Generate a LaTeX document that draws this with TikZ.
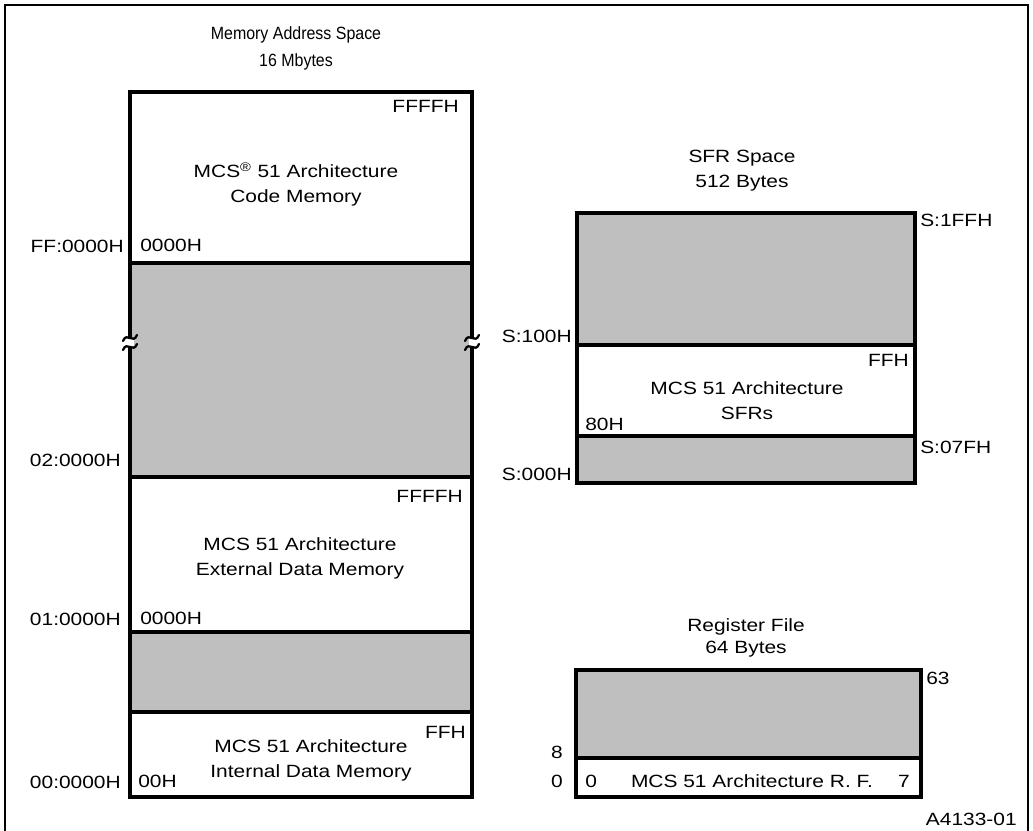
\documentclass[tikz,border=0pt]{standalone}
\usepackage{fontspec}
\setmainfont{Liberation Sans}[FakeStretch=1.18]
\newfontfamily\titlefont{Liberation Sans}[FakeStretch=0.9]

\begin{document}
\begin{tikzpicture}[
  x=0.75pt, y=-0.75pt,
  lbl/.style={inner sep=0pt, font=\fontsize{13.3}{18.75}\selectfont},
  ttl/.style={inner sep=0pt, align=center, font=\fontsize{13.3}{18.75}\selectfont},
  blk/.style={draw, line width=3.3pt},
  shade/.style={blk, fill=black!25},
  mem/.style={blk, fill=white},
  brk/.style={line width=1.7pt, line cap=round},
  frame/.style={line width=1pt},
]
\useasboundingbox (0,0) rectangle (1033,831);
\draw[frame] (5,831) -- (5,5) -- (1028,5) -- (1028,831);

% === MEMORY ADDRESS SPACE (left) ===
% (base of a two-line node = baseline of its last line)
\node[ttl, anchor=base, font=\titlefont\fontsize{13.3}{20.25}\selectfont] (memtitle) at (296,67) {Memory Address Space\\16 Mbytes};

\path[shade] (130,92) rectangle (472,797);
\path[mem] (130,92) rectangle (472,263);
\path[mem] (130,477) rectangle (472,632);
\path[mem] (130,712) rectangle (472,797);

% break marks in the shaded gap
\fill[white] (127,338) rectangle (133.5,346);
\fill[white] (469,338) rectangle (475.5,346);
\draw[brk] (123,341) .. controls (127,331) and (133,345) .. (137,335);
\draw[brk] (123,350) .. controls (127,340) and (133,354) .. (137,344);
\draw[brk] (465,341) .. controls (469,331) and (475,345) .. (479,335);
\draw[brk] (465,350) .. controls (469,340) and (475,354) .. (479,344);

\node[lbl, anchor=base east] (codetop) at (459,113) {FFFFH};
\node[ttl, anchor=base] (code) at (296,203) {MCS\textsuperscript{®} 51 Architecture\\Code Memory};
\node[lbl, anchor=base west] (codebot) at (140,252) {0000H};

\node[lbl, anchor=base east] (extop) at (463,502) {FFFFH};
\node[ttl, anchor=base] (ext) at (300,575) {MCS 51 Architecture\\External Data Memory};
\node[lbl, anchor=base west] (exbot) at (140,624) {0000H};

\node[lbl, anchor=base east] (intop) at (466,738) {FFH};
\node[ttl, anchor=base] (int) at (311,777) {MCS 51 Architecture\\Internal Data Memory};
\node[lbl, anchor=base west] (inbot) at (138,787) {00H};

\node[lbl, anchor=base east] (aFF) at (124,253) {FF:0000H};
\node[lbl, anchor=base east] (a02) at (121,466) {02:0000H};
\node[lbl, anchor=base east] (a01) at (121,625) {01:0000H};
\node[lbl, anchor=base east] (a00) at (121,788) {00:0000H};

% === SFR SPACE (top right) ===
\node[ttl, anchor=base] (sfrtitle) at (742,188) {SFR Space\\512 Bytes};

\path[shade] (577,213) rectangle (915,483);
\path[mem] (577,345) rectangle (915,436);

\node[lbl, anchor=base east] (sfrtop) at (909,367) {FFH};
\node[ttl, anchor=base] (sfr) at (747,419) {MCS 51 Architecture\\SFRs};
\node[lbl, anchor=base west] (sfrbot) at (585,431) {80H};

\node[lbl, anchor=base west] (s1FF) at (920,227) {S:1FFH};
\node[lbl, anchor=base east] (s100) at (572,343) {S:100H};
\node[lbl, anchor=base west] (s07F) at (920,453) {S:07FH};
\node[lbl, anchor=base east] (s000) at (572,480) {S:000H};

% === REGISTER FILE (bottom right) ===
\node[ttl, anchor=base, font=\fontsize{13.3}{16.5}\selectfont] (rftitle) at (746,653) {Register File\\64 Bytes};

\path[shade] (576,670) rectangle (921,797);
\path[mem] (576,758) rectangle (921,797);

\node[lbl, anchor=base west] (r63) at (926,684) {63};
\node[lbl, anchor=base east] (r8) at (563,758) {8};
\node[lbl, anchor=base east] (r0) at (563,787) {0};
\node[lbl, anchor=base west] (rflo) at (585,787) {0};
\node[lbl, anchor=base] (rf) at (752,787) {MCS 51 Architecture R. F.};
\node[lbl, anchor=base east] (rfhi) at (910,787) {7};

\node[lbl, anchor=base east] (fig) at (1017,825) {A4133-01};
\end{tikzpicture}
\end{document}
